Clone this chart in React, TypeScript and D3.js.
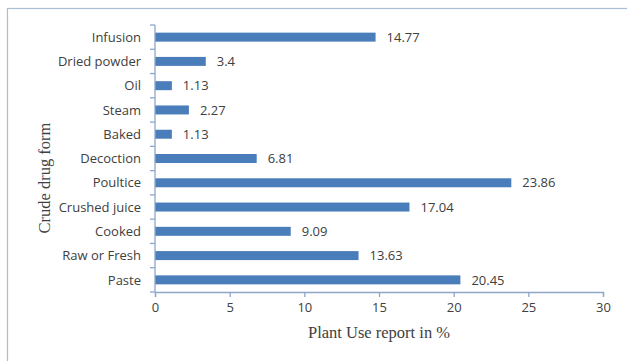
import React, { useEffect, useRef } from "react";
import * as d3 from "d3";

const categories = [
  "Infusion",
  "Dried powder",
  "Oil",
  "Steam",
  "Baked",
  "Decoction",
  "Poultice",
  "Crushed juice",
  "Cooked",
  "Raw or Fresh",
  "Paste",
];
const values = [14.77, 3.4, 1.13, 2.27, 1.13, 6.81, 23.86, 17.04, 9.09, 13.63, 20.45];
const valueLabels = ["14.77", "3.4", "1.13", "2.27", "1.13", "6.81", "23.86", "17.04", "9.09", "13.63", "20.45"];
const xTicks = [0, 5, 10, 15, 20, 25, 30];

const W = 627;
const H = 361;
const M = { left: 155, right: 24, top: 25, bottom: 69 };
const AXIS = "#8ea6c8";
const BAR = "#4a7ebb";
const TXT = "#404040";
const SANS = "'Open Sans', 'Noto Sans', sans-serif";
const SERIF = "'Liberation Serif', 'DejaVu Serif', serif";

export default function App() {
  const ref = useRef<SVGSVGElement>(null);

  useEffect(() => {
    const svg = d3.select(ref.current);
    svg.selectAll("*").remove();

    const x = d3.scaleLinear().domain([0, 30]).range([M.left, W - M.right]);
    const y = d3
      .scaleBand()
      .domain(categories)
      .range([M.top, H - M.bottom])
      .paddingInner(0.63)
      .paddingOuter(0.315);

    // outer frame
    svg
      .append("rect")
      .attr("x", 7.5)
      .attr("y", 8.5)
      .attr("width", W)
      .attr("height", H)
      .attr("fill", "#fff")
      .attr("stroke", "#a9bdd6")
      .attr("stroke-width", 1.2);

    // bars
    svg
      .append("g")
      .selectAll("rect")
      .data(values)
      .join("rect")
      .attr("x", x(0))
      .attr("y", (_, i) => y(categories[i])!)
      .attr("width", (d) => x(d) - x(0))
      .attr("height", y.bandwidth())
      .attr("fill", BAR);

    // value labels
    svg
      .append("g")
      .selectAll("text")
      .data(values)
      .join("text")
      .attr("x", (d) => x(d) + 11)
      .attr("y", (_, i) => y(categories[i])! + y.bandwidth() / 2)
      .attr("dy", "0.36em")
      .attr("font-family", SANS)
      .attr("font-size", 13)
      .attr("fill", TXT)
      .text((_, i) => valueLabels[i]);

    // x axis
    const xAxis = svg
      .append("g")
      .attr("transform", `translate(0,${H - M.bottom})`)
      .call(d3.axisBottom(x).tickValues(xTicks).tickSize(5).tickPadding(6).tickFormat(d3.format("d")));
    xAxis.select(".domain").attr("stroke", AXIS).attr("stroke-width", 1.3);
    xAxis.selectAll(".tick line").attr("stroke", AXIS).attr("stroke-width", 1.3);
    xAxis
      .selectAll(".tick text")
      .attr("font-family", SANS)
      .attr("font-size", 13)
      .attr("fill", TXT);

    // y axis: ticks sit on category boundaries
    const yAxisG = svg.append("g").attr("transform", `translate(${M.left},0)`);
    yAxisG
      .append("line")
      .attr("x1", 0)
      .attr("x2", 0)
      .attr("y1", M.top)
      .attr("y2", H - M.bottom)
      .attr("stroke", AXIS)
      .attr("stroke-width", 1.3);
    const step = y.step();
    const bounds = d3.range(categories.length + 1).map((i) => M.top + i * step);
    yAxisG
      .selectAll("line.tk")
      .data(bounds)
      .join("line")
      .attr("class", "tk")
      .attr("x1", -5)
      .attr("x2", 0)
      .attr("y1", (d) => d)
      .attr("y2", (d) => d)
      .attr("stroke", AXIS)
      .attr("stroke-width", 1.3);
    yAxisG
      .selectAll("text")
      .data(categories)
      .join("text")
      .attr("x", -14)
      .attr("y", (d) => y(d)! + y.bandwidth() / 2)
      .attr("dy", "0.36em")
      .attr("text-anchor", "end")
      .attr("font-family", SANS)
      .attr("font-size", 13)
      .attr("fill", TXT)
      .text((d) => d);

    // axis titles
    svg
      .append("text")
      .attr("x", 379)
      .attr("y", 338)
      .attr("text-anchor", "middle")
      .attr("font-family", SERIF)
      .attr("font-size", 16.5)
      .attr("fill", TXT)
      .text("Plant Use report in %");

    svg
      .append("text")
      .attr("transform", `translate(50,178) rotate(-90)`)
      .attr("text-anchor", "middle")
      .attr("font-family", SERIF)
      .attr("font-size", 16.5)
      .attr("fill", TXT)
      .text("Crude drug form");
  }, []);

  return (
    <svg
      ref={ref}
      width={W}
      height={H}
      style={{ position: "absolute", left: 0, top: 0, background: "#fff" }}
    />
  );
}
